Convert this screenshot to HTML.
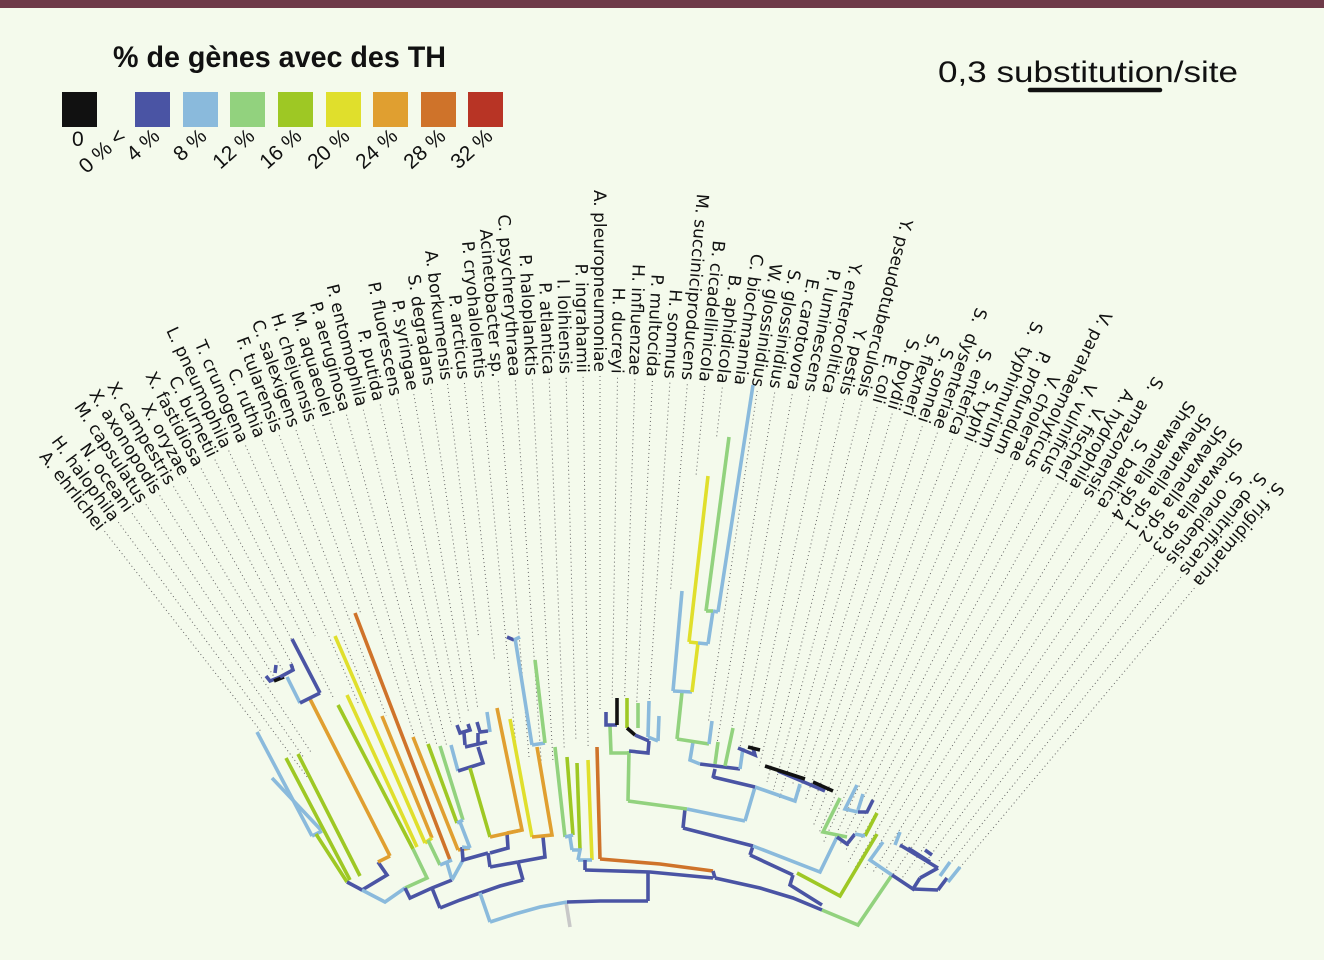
<!DOCTYPE html>
<html><head><meta charset="utf-8"><style>
html,body{margin:0;padding:0;background:#f4faec;}
svg{display:block;}
</style></head><body>
<svg id="s" width="1324" height="960" viewBox="0 0 1324 960" xmlns="http://www.w3.org/2000/svg">
<rect x="0" y="0" width="1324" height="960" fill="#f4faec"/>
<rect x="0" y="0" width="1324" height="8" fill="#6e3a48"/>
<text x="113" y="67" font-family="Liberation Sans, sans-serif" font-weight="bold" font-size="30" fill="#111" textLength="333" lengthAdjust="spacingAndGlyphs">% de gènes avec des TH</text>
<g id="leg"></g>
<text x="938" y="82" font-family="Liberation Sans, sans-serif" font-size="30" fill="#111" textLength="300" lengthAdjust="spacingAndGlyphs">0,3 substitution/site</text>
<line x1="1030" y1="90" x2="1160" y2="90" stroke="#111" stroke-width="4.5" stroke-linecap="round"/>
<g id="dots"></g>
<g id="labels"></g>
<g id="tree" fill="none" stroke-width="3.6" stroke-linejoin="miter" stroke-linecap="butt"></g>
</svg>
<script>
var NS="http://www.w3.org/2000/svg";
function el(t,a,p,txt){var e=document.createElementNS(NS,t);for(var k in a)e.setAttribute(k,a[k]);if(txt!=null)e.textContent=txt;p.appendChild(e);return e;}
var C={B:"#4a54a4",L:"#8abadc",G:"#92d27e",V:"#9ec824",Y:"#e0df2c",O:"#e09f30",R:"#cf732a",K:"#111111",X:"#c8c8c8"};
var leg=document.getElementById("leg");
var sw=[[62,"K"],[135,"B"],[183,"L"],[230,"G"],[278,"V"],[326,"Y"],[373,"O"],[421,"R"],[468,"#b83425"]];
sw.forEach(function(s){el("rect",{x:s[0],y:92,width:35,height:35,fill:C[s[1]]||s[1]},leg);});
el("text",{x:72,y:146,"font-family":"Liberation Sans, sans-serif","font-size":21,fill:"#111"},leg,"0");
var ll=[[127,"0 % <"],[161,"4 %"],[208,"8 %"],[256,"12 %"],[303,"16 %"],[351,"20 %"],[399,"24 %"],[447,"28 %"],[494,"32 %"]];
ll.forEach(function(l){el("text",{x:l[0],y:138,"text-anchor":"end","font-family":"Liberation Sans, sans-serif","font-size":21,fill:"#111",transform:"rotate(-42 "+l[0]+" 138)"},leg,l[1]);});
var names=["A. ehrlichei","H. halophila","N. oceani","M. capsulatus","X. axonopodis","X. campestris","X. oryzae","X. fastidiosa","C. burnetii","L. pneumophila","T. crunogena","C. ruthia","F. tularensis","C. salexigens","H. chejuensis","M. aquaeolei","P. aeruginosa","P. entomophila","P. putida","P. fluorescens","P. syringae","S. degradans","A. borkumensis","P. arcticus","P. cryohalolentis","Acinetobacter sp.","C. psychrerythraea","P. haloplanktis","P. atlantica","I. loihiensis","P. ingrahamii","A. pleuropneumoniae","H. ducreyi","H. influenzae","P. multocida","H. somnus","M. succiniciproducens","B. cicadellinicola","B. aphidicola","C. biochmannia","W. glossinidius","S. glossinidius","E. carotovora","P. luminescens","Y. enterocolitica","Y. pestis","Y. pseudotuberculosis","E. coli","S. boydii","S. flexneri","S. sonnei","S.  dysenteriae","S. enterica","S. typhi","S.  typhimurium","P. profundum","V. cholerae","V. parahaemolyticus","V. vulnificus","V. fischeri","A. hydrophila","S.  amazonensis","S. baltica","Shewanella sp.4","Shewanella sp.1","Shewanella sp.2","Shewanella sp.3","S. oneidensis","S. denitrificans","S. frigidimarina"];
var anc=[[0,102,528,52],[9,227,447,65],[22,447,380,83],[31,600,372,90],[46,863,397,104],[59,1060,480,119],[61,1088,497,121],[69,1197,585,130]];
function interp(i){for(var k=0;k<anc.length-1;k++){var a=anc[k],b=anc[k+1];if(i>=a[0]&&i<=b[0]){var f=(i-a[0])/(b[0]-a[0]);return [a[1]+f*(b[1]-a[1]),a[2]+f*(b[2]-a[2]),a[3]+f*(b[3]-a[3])];}}return null;}
var tipY=[732,778,758,754,677,672,668,639,699,636,705,695,716,613,737,744,746,745,725,722,712,708,638,660,747,757,763,760,748,740,748,712,698,698,703,716,591,476,437,385,721,742,728,748,747,766,782,790,798,785,794,800,812,826,834,842,832,844,850,862,867,870,872,875,878,880,870,862,867,870];
var lab=document.getElementById("labels"),dots=document.getElementById("dots");
for(var i=0;i<names.length;i++){var p=interp(i);var x=p[0],y=p[1],a=p[2];
 var t=el("text",{x:x.toFixed(1),y:y.toFixed(1),"text-anchor":"end","font-family":"DejaVu Sans, sans-serif","font-size":17,fill:"#111",transform:"rotate("+a.toFixed(2)+" "+x.toFixed(1)+" "+y.toFixed(1)+") translate(0 6)"},lab,names[i]);
 t.setAttributeNS("http://www.w3.org/XML/1998/namespace","xml:space","preserve");
 var r=a*Math.PI/180,dx=Math.cos(r),dy=Math.sin(r);var ty=tipY[i];var tt=(ty-y)/dy;
 if(tt>4){el("line",{x1:(x+dx*4).toFixed(1),y1:(y+dy*4).toFixed(1),x2:(x+dx*tt).toFixed(1),y2:ty,stroke:"#666","stroke-width":1,"stroke-dasharray":"1 3"},dots);}
}
var T=[
["X","566,902 570,927"],
["L","257,732 312,836"],["L","272,778 321,830"],["L","312,836 322,831"],
["V","286,758 350,880"],["V","298,754 360,876"],["V","316,834 347,882"],
["B","347,882 362,890 387,875 378,862"],["O","310,699 390,856"],["O","378,862 390,856"],
["B","292,639 320,693"],["L","287,677 300,703"],["B","300,703 320,693"],
["B","266,676 270,681 280,677"],["K","274,681 284,677"],["B","280,677 293,670 291,664"],["B","275,673 276,665"],
["Y","335,636 425,843"],["V","338,705 413,849"],["Y","347,695 417,847"],["O","382,716 432,838"],["R","355,613 450,860"],
["G","413,849 427,878 405,888"],["L","362,890 385,902 405,888"],
["Y","425,843 432,838"],["G","428,840 440,865"],["L","440,865 452,860"],
["O","413,737 458,850"],["V","428,744 457,823"],["G","440,746 463,820"],["L","457,823 463,820"],["L","460,822 470,848"],["O","458,850 470,848"],
["L","447,863 452,880"],["B","405,888 410,898 432,888 452,880"],["L","452,880 463,860"],
["B","432,888 440,908"],["B","440,908 460,900 480,893 500,886 523,880"],
["L","490,922 515,914 540,907 567,902"],["L","490,922 480,893"],
["B","567,902 600,901 648,901"],["B","648,901 648,871"],
["B","523,880 518,862"],["B","518,862 490,867"],["B","490,867 488,853"],["B","488,853 463,860 462,847"],["L","462,847 470,848"],
["B","518,862 545,857 543,837"],["B","490,853 508,848 507,833"],
["L","451,745 458,771"],["B","458,771 483,763 478,747"],["V","470,768 490,837"],["O","490,837 522,830 497,708"],["O","507,833 522,830"],
["B","465,747 487,742"],["B","465,745 464,733"],["B","457,725 460,733 470,730 468,724"],["B","478,743 478,733"],["B","477,722 480,732 488,731"],["L","487,712 490,732"],
["Y","510,719 532,837"],["O","532,837 552,835 537,747"],["L","532,745 545,743"],["L","515,638 532,745"],["G","535,660 545,743"],["B","507,637 514,640"],["L","514,640 520,637"],
["G","555,747 565,837"],["V","567,757 573,835"],["L","565,837 573,835"],["L","570,837 572,850"],["V","577,763 580,850"],["L","572,850 580,850 578,860"],["Y","588,760 592,860"],["L","578,860 592,860"],["B","585,860 585,870"],["R","597,747 600,859"],
["B","585,870 650,872 713,878"],["R","600,859 660,864 713,871"],["B","713,871 715,878"],
["B","715,878 760,888 793,898 822,910"],["G","822,910 858,925 892,875"],
["B","753,846 750,855"],["B","750,855 793,875"],["B","793,875 790,885 822,905"],["V","797,873 840,896 877,834"],
["B","683,828 753,846"],["B","685,809 683,828"],["L","753,846 820,872 837,837"],
["G","628,801 687,809"],["L","687,809 745,821"],["L","745,821 755,787"],["L","755,787 795,801 800,784"],["B","778,771 825,791"],
["B","713,777 755,787"],["B","715,769 713,778"],["B","700,764 740,769"],["L","740,769 743,748"],["B","738,748 755,755 753,748"],["K","748,747 760,750"],["K","765,766 805,779"],["K","813,782 833,791"],
["L","693,742 690,760 700,764"],["G","718,742 715,764"],["G","733,728 725,766"],["G","677,739 709,744"],["L","712,721 709,744"],["G","682,692 677,739"],["L","673,691 692,692"],["L","682,591 673,691"],["Y","698,643 692,692"],["Y","689,642 698,643"],["L","698,643 708,644"],["Y","708,476 689,642"],["L","713,611 708,644"],["G","729,437 706,611"],["L","753,385 718,612"],["G","706,611 713,611"],["L","713,611 718,612"],
["G","628,801 629,751"],["B","629,751 648,753 649,741"],["G","610,726 611,753 629,753"],["B","606,712 606,725 617,725"],["K","617,698 617,725"],["V","627,698 627,728"],["G","638,703 638,728"],["K","627,728 635,735"],["B","635,735 649,741"],["L","649,701 648,737"],["L","659,716 658,741"],["L","648,737 658,741"],
["G","840,798 823,832 847,837"],["L","857,785 845,809 858,812"],["L","863,794 858,810"],["B","873,800 867,812 858,812"],["V","877,813 865,836"],["B","837,837 847,844 855,834"],["L","855,834 865,836"],
["L","883,842 870,860 892,875"],["B","892,875 913,889 920,878"],["B","900,845 938,868"],["B","908,848 930,862"],["L","900,832 895,845"],["B","920,878 938,868"],["B","938,890 947,878"],["B","913,889 938,890"],["L","950,862 940,876"],["L","960,867 948,882"],["B","925,850 932,855"]
];
var tree=document.getElementById("tree");
T.forEach(function(s){el("polyline",{points:s[1],stroke:C[s[0]]},tree);});
</script>
</body></html>
